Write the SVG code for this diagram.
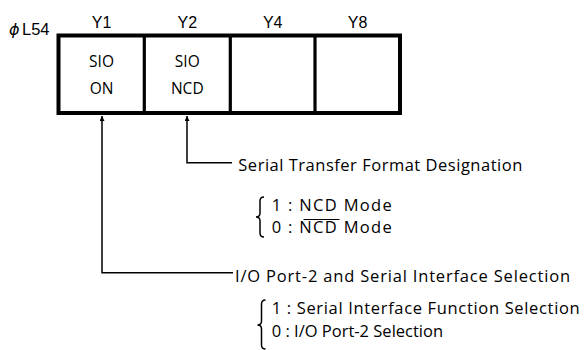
<svg xmlns="http://www.w3.org/2000/svg" width="584" height="350" viewBox="0 0 584 350">
<defs>
<style>
.hdr{font-family:"Liberation Sans",Arial,sans-serif;font-size:16px;fill:#000;text-anchor:middle}
.cell{font-family:"Open Sans","Noto Sans",sans-serif;font-size:15.5px;fill:#000;text-anchor:middle}
.lbl{font-family:"Open Sans","Noto Sans",sans-serif;font-size:16.5px;fill:#000}
.ln{fill:none;stroke:#000;stroke-width:1.5}
</style>
<marker id="ah" viewBox="0 0 10 10" refX="10" refY="5" markerWidth="10" markerHeight="5" markerUnits="userSpaceOnUse" orient="auto">
<path d="M0,0 L10,5 L0,10 z" fill="#000"/>
</marker>
</defs>
<rect width="584" height="350" fill="#fff"/>
<g id="register">
<text x="9" y="34.5" font-family="DejaVu Sans, sans-serif" font-size="16" font-style="italic">ϕ</text>
<text x="22" y="34.5" font-family="Liberation Sans, Arial, sans-serif" font-size="16.5">L54</text>
<rect x="58.5" y="35.5" width="341.5" height="77.5" fill="none" stroke="#000" stroke-width="4"/>
<line x1="144.3" y1="35.5" x2="144.3" y2="113" stroke="#000" stroke-width="3.2"/>
<line x1="230.3" y1="35.5" x2="230.3" y2="113" stroke="#000" stroke-width="3.2"/>
<line x1="315" y1="35.5" x2="315" y2="113" stroke="#000" stroke-width="3.2"/>
</g>
<g id="y1">
<text class="hdr" x="101.5" y="28">Y1</text>
<text class="cell" x="101.5" y="67">SIO</text>
<text class="cell" x="101.5" y="93.5">ON</text>
</g>
<g id="y2">
<text class="hdr" x="187.3" y="28">Y2</text>
<text class="cell" x="187.3" y="67">SIO</text>
<text class="cell" x="187.3" y="93.5">NCD</text>
</g>
<g id="y4">
<text class="hdr" x="272.7" y="28">Y4</text>
</g>
<g id="y8">
<text class="hdr" x="357.6" y="28">Y8</text>
</g>
<g id="connectors">
<path class="ln" d="M233,272.7 H102 V116" marker-end="url(#ah)"/>
<path class="ln" d="M232,162.7 H187 V116" marker-end="url(#ah)"/>
</g>
<g id="ncd-desc">
<text class="lbl" x="238.3" y="170.7" textLength="284" lengthAdjust="spacing">Serial Transfer Format Designation</text>
<path class="ln" d="M264,197 Q260,197 260,201 V213 Q260,217 256,217 Q260,217 260,221 V233 Q260,237 264,237"/>
<text class="lbl" x="271.7" y="210.7" textLength="120" lengthAdjust="spacing">1 : NCD Mode</text>
<text class="lbl" x="271.7" y="232.7" textLength="120" lengthAdjust="spacing">0 : NCD Mode</text>
<line x1="303.5" y1="219.5" x2="339.5" y2="219.5" stroke="#000" stroke-width="1.2"/>
</g>
<g id="sio-desc">
<text class="lbl" x="235" y="281.7" textLength="335" lengthAdjust="spacing">I/O Port-2 and Serial Interface Selection</text>
<path class="ln" d="M265.5,300 Q261.5,300 261.5,304 V321 Q261.5,325 257.5,325 Q261.5,325 261.5,329 V345 Q261.5,349 265.5,349"/>
<text class="lbl" x="271.7" y="314" textLength="308" lengthAdjust="spacing">1 : Serial Interface Function Selection</text>
<text class="lbl" x="271.7" y="336.7">0 : I/O Port-2 Selection</text>
</g>
</svg>
